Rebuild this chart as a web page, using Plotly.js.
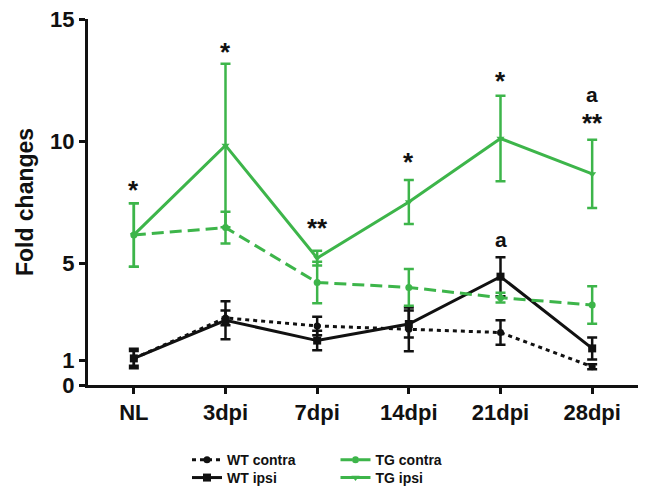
<!DOCTYPE html>
<html>
<head>
<meta charset="utf-8">
<script src="https://cdn.plot.ly/plotly-3.0.1.min.js"></script>
<style>html,body{margin:0;padding:0;background:#fff;}#chart{width:647px;height:496px;}</style>
</head>
<body>
<div id="chart"></div>
<script>
var categories = ["NL", "3dpi", "7dpi", "14dpi", "21dpi", "28dpi"];
var yTicks = [0, 1, 5, 10, 15];

var wtContra = [1.09, 2.75, 2.42, 2.28, 2.15, 0.75];
var wtContraErr = [0.3, 0.3, 0.38, 0.9, 0.5, 0.1];
var wtIpsi = [1.09, 2.65, 1.82, 2.5, 4.44, 1.5];
var wtIpsiErr = [0.4, 0.78, 0.4, 0.55, 0.8, 0.45];
var tgContra = [6.15, 6.45, 4.2, 4.0, 3.58, 3.28];
var tgContraErr = [1.3, 0.65, 0.85, 0.75, 0.2, 0.77];
var tgIpsi = [6.15, 9.82, 5.2, 7.5, 10.1, 8.65];
var tgIpsiErr = [1.3, 3.35, 0.3, 0.9, 1.75, 1.4];

var sigLabels = ["*", "*", "**", "*", "*", "**", "a", "a"];
var sigX = ["NL", "3dpi", "7dpi", "14dpi", "21dpi", "28dpi", "28dpi", "21dpi"];
var sigY = [8.0, 13.66, 6.45, 9.15, 12.47, 10.75, 11.9, 5.95];

var green = "#3db54a";
var black = "#111111";

function trace(name, y, err, color, dash, symbol, msize, legend) {
  return {
    type: "scatter", mode: "lines+markers", name: name,
    x: categories, y: y,
    line: {color: color, width: 3, dash: dash},
    marker: {color: color, symbol: symbol, size: msize},
    error_y: {type: "data", array: err, visible: true, color: color, thickness: 2.5, width: 5},
    legend: legend
  };
}

var data = [
  trace("WT contra", wtContra, wtContraErr, black, "4px,4px", "circle", 7, "legend"),
  trace("WT ipsi", wtIpsi, wtIpsiErr, black, "solid", "square", 8, "legend2"),
  trace("TG contra", tgContra, tgContraErr, green, "12px,6px", "circle", 7, "legend3"),
  trace("TG ipsi", tgIpsi, tgIpsiErr, green, "solid", "triangle-down", 7, "legend4")
];

var annotations = sigLabels.map(function (t, i) {
  return {x: sigX[i], y: sigY[i], xref: "x", yref: "y", text: t, showarrow: false,
    font: {family: "Arial, Liberation Sans, sans-serif", size: t === "a" ? 21 : 26, color: "#111", weight: "bold"},
    xanchor: "center", yanchor: "middle"};
});

var legendFont = {family: "Arial, Liberation Sans, sans-serif", size: 14, color: "#111", weight: "bold"};
function leg(x, y) {
  return {x: x, y: y, xanchor: "left", yanchor: "middle", orientation: "v",
    font: legendFont, bgcolor: "rgba(0,0,0,0)", tracegroupgap: 0, itemwidth: 30};
}

var layout = {
  width: 647, height: 496,
  margin: {l: 88, r: 9, t: 19, b: 111, autoexpand: false},
  paper_bgcolor: "#fff", plot_bgcolor: "#fff",
  showlegend: true,
  font: {family: "Arial, Liberation Sans, sans-serif", color: "#111"},
  xaxis: {
    type: "category", range: [-0.5, 5.5],
    showline: true, linecolor: "#111", linewidth: 3,
    ticks: "outside", ticklen: 6, tickwidth: 3, tickcolor: "#111",
    showgrid: false, zeroline: false,
    tickfont: {size: 22, weight: "bold", color: "#111"}
  },
  yaxis: {
    range: [0, 15], tickvals: yTicks, ticktext: yTicks.map(String),
    showline: true, linecolor: "#111", linewidth: 3,
    ticks: "outside", ticklen: 6, tickwidth: 3, tickcolor: "#111",
    showgrid: false, zeroline: false,
    tickfont: {size: 22, weight: "bold", color: "#111"},
    title: {text: "Fold changes", font: {size: 23, weight: "bold", color: "#111"}, standoff: 11}
  },
  legend: leg(0.18, -0.205),
  legend2: leg(0.18, -0.254),
  legend3: leg(0.45, -0.205),
  legend4: leg(0.45, -0.254),
  annotations: annotations
};

Plotly.newPlot("chart", data, layout, {displayModeBar: false, staticPlot: true});
</script>
</body>
</html>
